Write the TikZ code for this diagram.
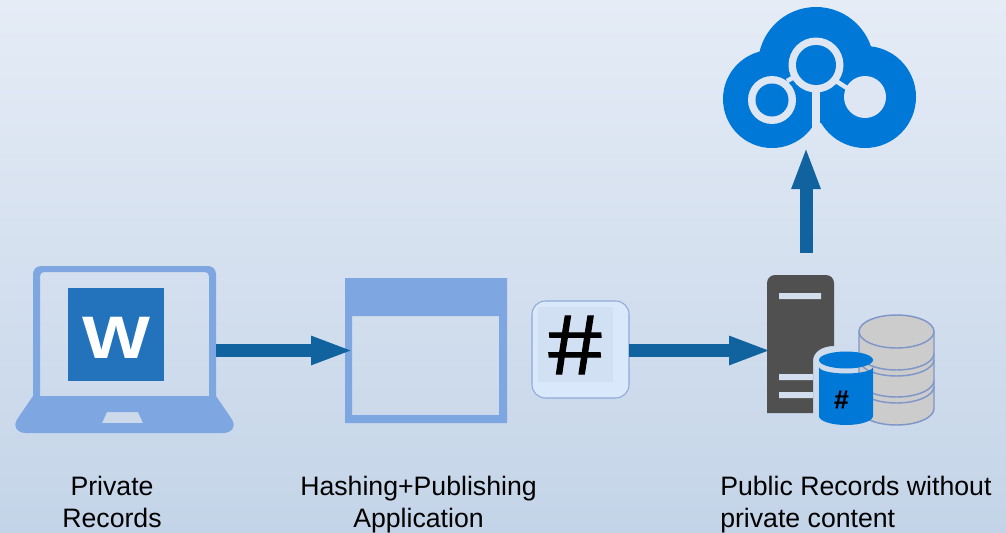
\documentclass[tikz,border=0pt]{standalone}
\usepackage{fontspec}
\setmainfont{Liberation Sans}
\newfontfamily\hashfont[FakeBold=1.2]{Liberation Sans}
\newfontfamily\dbhashfont[BoldFeatures={FakeBold=.5}]{Liberation Sans}
\usetikzlibrary{arrows.meta,fit}

\definecolor{bgtop}{HTML}{E5ECF6}
\definecolor{bgbottom}{HTML}{C4D4E8}
\definecolor{iconblue}{HTML}{7EA6E0}
\definecolor{wordblue}{HTML}{2372BC}
\definecolor{cloudblue}{HTML}{0078D7}
\definecolor{cloudgap}{HTML}{DDE6F2}
\definecolor{flowblue}{HTML}{10639E}
\definecolor{servergrey}{HTML}{505050}
\definecolor{slotgrey}{HTML}{D2DEEE}
\definecolor{dbline}{HTML}{7F96C8}
\definecolor{hashfill}{HTML}{DAE8FC}
\definecolor{hashinner}{HTML}{D2E0F3}
\definecolor{hashline}{HTML}{8FA9D8}

\tikzset{
  iconbox/.style={inner sep=0pt,outer sep=0pt},
  flow/.style={-{Triangle[length=32pt,width=19.5pt]},flowblue,line width=9.75pt},
  caption/.style={inner sep=0pt,font=\fontsize{20}{24}\selectfont},
  dbgrey/.style={fill=black!20,draw=dbline,line width=1.1pt}
}

\begin{document}
\begin{tikzpicture}[x=.75pt,y=-.75pt]
  \useasboundingbox (0,0) rectangle (1006,532);
  \shade[top color=bgtop,bottom color=bgbottom] (0,0) rectangle (1006,532);

  % laptop
  \fill[iconblue,even odd rule]
    (33,396) [rounded corners=6pt] -- (33,266) -- (216,266) [sharp corners] -- (216,396)
    -- (231,418) .. controls (237,426) and (232,433) .. (223,433) -- (26,433)
    .. controls (17,433) and (12,426) .. (18,418) -- cycle
    (40,396) [rounded corners=3pt] -- (40,272) -- (209,272) [sharp corners] -- (209,396) -- cycle
    (107,412) -- (138,412) -- (143,423) -- (102,423) -- cycle;
  \fill[wordblue] (68,288) rectangle (164,381);
  \node[iconbox,font=\bfseries\fontsize{45}{45}\selectfont,text=white,xscale=1.2] (wordmark) at (116,338) {W};
  \node[iconbox,fit={(15,267)(216,434)}] (laptop) {};

  % application window
  \fill[iconblue,even odd rule] (345,278) rectangle (507,423) (352,316) rectangle (499,415);
  \node[iconbox,fit={(345,278)(507,423)}] (app) {};

  % hash box
  \draw[fill=hashfill,draw=hashline,line width=.8pt,rounded corners=10pt] (532,301) rectangle (629,398);
  \fill[hashinner] (538,307) rectangle (613,382);
  \node[iconbox,font=\hashfont\fontsize{64}{64}\selectfont,xscale=1.15,xslant=-.08] (hashmark) at (575,345) {\#};
  \node[iconbox,fit={(532,302)(629,399)}] (hash) {};

  % server
  \fill[servergrey] (767,413) [rounded corners=6pt] -- (767,275) -- (834,275) [sharp corners] -- (834,346)
    .. controls (822,346) and (813,352) .. (813,361) -- (813,413) -- cycle;
  \fill[slotgrey] (779,293) rectangle (821,299) (779,374) rectangle (813,380) (779,392) rectangle (813,398);
  \node[iconbox,fit={(767,275)(845,426)}] (server) {};

  % grey database
  \path[dbgrey] (859,331.5) -- (859,408.5) arc[start angle=180,end angle=0,x radius=37.5,y radius=16.5]
    -- (934,331.5) arc[start angle=0,end angle=-180,x radius=37.5,y radius=16.5] -- cycle;
  \foreach \ydisk in {331.5,353.5,359.5,380.5,386.5}
    \draw[dbline,line width=1.1pt] (859,\ydisk) arc[start angle=180,end angle=0,x radius=37.5,y radius=16.5];

  % blue database
  \fill[cloudblue] (846,360) ellipse[x radius=27,y radius=8.5];
  \fill[cloudblue] (819,367) -- (819,416) arc[start angle=180,end angle=0,x radius=27,y radius=9]
    -- (873,367) arc[start angle=0,end angle=180,x radius=27,y radius=6.5] -- cycle;
  \node[iconbox,font=\dbhashfont\bfseries\fontsize{19.5}{20}\selectfont] (dbhash) at (841.5,399.5) {\#};

  % cloud
  \fill[cloudblue] (816,65) circle[radius=58] (772,99) circle[radius=49] (865,97) circle[radius=51];
  \fill[cloudgap] (816,65) circle[radius=27.5] (772,100) circle[radius=24] (865,97) circle[radius=21];
  \fill[cloudgap] (811.7,88) rectangle (820,128);
  \draw[cloudgap,line width=3.4pt] (787,81) -- (796,76) (836,81) -- (850,90);
  \fill[cloudblue] (816,65) circle[radius=20] (772,100) circle[radius=16.5];
  \node[iconbox,fit={(723,7)(916,147)}] (cloud) {};

  % connectors
  \draw[flow,shorten >=-6.5pt] (laptop.east) -- (app.west);
  \draw[flow,shorten >=-3.5pt] (hash.east) -- (server.west);
  \draw[flow,shorten <=16.5pt,shorten >=-.5pt] (server.north) -- (server.north |- cloud.south);

  % captions
  \node[caption,align=center,anchor=north] (privatetext) at (112,476) {Private\\Records};
  \node[caption,align=center,anchor=north] (hashingtext) at (418.5,476) {Hashing+Publishing\\Application};
  \node[caption,align=left,anchor=north west] (publictext) at (720,476) {Public Records without\\private content};
\end{tikzpicture}
\end{document}
